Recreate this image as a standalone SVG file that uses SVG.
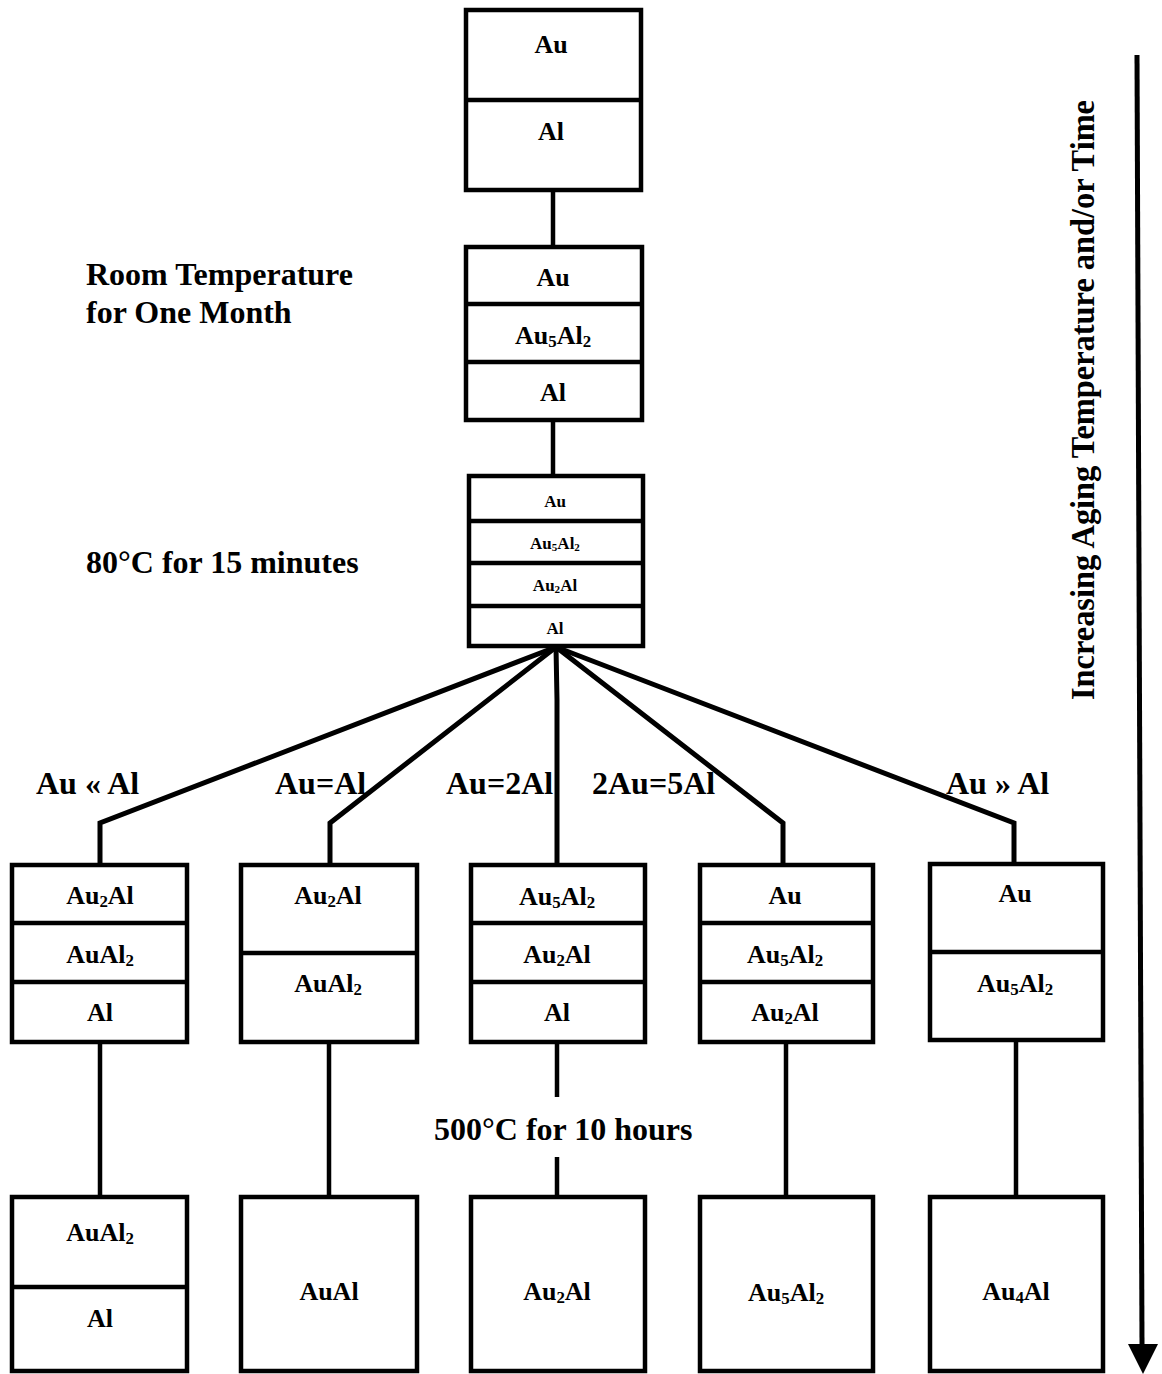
<svg xmlns="http://www.w3.org/2000/svg" width="1162" height="1374" viewBox="0 0 1162 1374">
<style>
  .box { fill: #fff; stroke: #000; stroke-width: 4.5; }
  .div { stroke: #000; stroke-width: 4.5; }
  .conn { fill: none; stroke: #000; stroke-width: 4.5; stroke-linejoin: miter; }
  .fan { fill: none; stroke: #000; stroke-width: 5; stroke-linejoin: miter; }
  text { font-family: "Liberation Serif", "Times New Roman", serif; font-weight: bold; fill: #000; }
  .bt { font-size: 26px; text-anchor: middle; }
  .st { font-size: 17px; text-anchor: middle; }
  .lbl { font-size: 32px; }
  .sub { font-size: 65%; }
</style>
<rect width="1162" height="1374" fill="#fff"/>

<g id="connectors">
  <line class="conn" x1="553" y1="190" x2="553" y2="247"/>
  <line class="conn" x1="553" y1="420" x2="553" y2="476"/>
  <polyline class="fan" points="556,647 100,823 100,865"/>
  <polyline class="fan" points="556,647 330,823 330,865"/>
  <polyline class="fan" points="556,647 557,700 557,865"/>
  <polyline class="fan" points="556,647 783,823 783,865"/>
  <polyline class="fan" points="556,647 1014,823 1014,865"/>
  <line class="conn" x1="100" y1="1042" x2="100" y2="1197"/>
  <line class="conn" x1="329" y1="1042" x2="329" y2="1197"/>
  <line class="conn" x1="557" y1="1042" x2="557" y2="1097"/>
  <line class="conn" x1="557" y1="1157" x2="557" y2="1197"/>
  <line class="conn" x1="786" y1="1042" x2="786" y2="1197"/>
  <line class="conn" x1="1016" y1="1042" x2="1016" y2="1197"/>
</g>

<g id="n-top">
  <rect class="box" x="466" y="10" width="175" height="180"/>
  <line class="div" x1="466" y1="100" x2="641" y2="100"/>
  <text class="bt" x="551" y="53">Au</text>
  <text class="bt" x="551" y="140">Al</text>
</g>

<g id="n-room">
  <rect class="box" x="466" y="247" width="176" height="173"/>
  <line class="div" x1="466" y1="304" x2="642" y2="304"/>
  <line class="div" x1="466" y1="362" x2="642" y2="362"/>
  <text class="bt" x="553" y="286">Au</text>
  <text class="bt" x="553" y="344">Au<tspan class="sub" baseline-shift="-15%">5</tspan>Al<tspan class="sub" baseline-shift="-15%">2</tspan></text>
  <text class="bt" x="553" y="401">Al</text>
</g>

<g id="n-80c">
  <rect class="box" x="469" y="476" width="174" height="170"/>
  <line class="div" x1="469" y1="521" x2="643" y2="521"/>
  <line class="div" x1="469" y1="563" x2="643" y2="563"/>
  <line class="div" x1="469" y1="606" x2="643" y2="606"/>
  <text class="st" x="555" y="507">Au</text>
  <text class="st" x="555" y="549">Au<tspan class="sub" baseline-shift="-15%">5</tspan>Al<tspan class="sub" baseline-shift="-15%">2</tspan></text>
  <text class="st" x="555" y="591">Au<tspan class="sub" baseline-shift="-15%">2</tspan>Al</text>
  <text class="st" x="555" y="634">Al</text>
</g>

<g id="n-b1">
  <rect class="box" x="12" y="865" width="175" height="177"/>
  <line class="div" x1="12" y1="923" x2="187" y2="923"/>
  <line class="div" x1="12" y1="982" x2="187" y2="982"/>
  <text class="bt" x="100" y="904">Au<tspan class="sub" baseline-shift="-15%">2</tspan>Al</text>
  <text class="bt" x="100" y="963">AuAl<tspan class="sub" baseline-shift="-15%">2</tspan></text>
  <text class="bt" x="100" y="1021">Al</text>
</g>

<g id="n-b2">
  <rect class="box" x="241" y="865" width="176" height="177"/>
  <line class="div" x1="241" y1="953" x2="417" y2="953"/>
  <text class="bt" x="328" y="904">Au<tspan class="sub" baseline-shift="-15%">2</tspan>Al</text>
  <text class="bt" x="328" y="992">AuAl<tspan class="sub" baseline-shift="-15%">2</tspan></text>
</g>

<g id="n-b3">
  <rect class="box" x="471" y="865" width="174" height="177"/>
  <line class="div" x1="471" y1="923" x2="645" y2="923"/>
  <line class="div" x1="471" y1="982" x2="645" y2="982"/>
  <text class="bt" x="557" y="905">Au<tspan class="sub" baseline-shift="-15%">5</tspan>Al<tspan class="sub" baseline-shift="-15%">2</tspan></text>
  <text class="bt" x="557" y="963">Au<tspan class="sub" baseline-shift="-15%">2</tspan>Al</text>
  <text class="bt" x="557" y="1021">Al</text>
</g>

<g id="n-b4">
  <rect class="box" x="700" y="865" width="173" height="177"/>
  <line class="div" x1="700" y1="923" x2="873" y2="923"/>
  <line class="div" x1="700" y1="982" x2="873" y2="982"/>
  <text class="bt" x="785" y="904">Au</text>
  <text class="bt" x="785" y="963">Au<tspan class="sub" baseline-shift="-15%">5</tspan>Al<tspan class="sub" baseline-shift="-15%">2</tspan></text>
  <text class="bt" x="785" y="1021">Au<tspan class="sub" baseline-shift="-15%">2</tspan>Al</text>
</g>

<g id="n-b5">
  <rect class="box" x="930" y="864" width="173" height="176"/>
  <line class="div" x1="930" y1="952" x2="1103" y2="952"/>
  <text class="bt" x="1015" y="902">Au</text>
  <text class="bt" x="1015" y="992">Au<tspan class="sub" baseline-shift="-15%">5</tspan>Al<tspan class="sub" baseline-shift="-15%">2</tspan></text>
</g>

<g id="n-f1">
  <rect class="box" x="12" y="1197" width="175" height="174"/>
  <line class="div" x1="12" y1="1287" x2="187" y2="1287"/>
  <text class="bt" x="100" y="1241">AuAl<tspan class="sub" baseline-shift="-15%">2</tspan></text>
  <text class="bt" x="100" y="1327">Al</text>
</g>
<g id="n-f2">
  <rect class="box" x="241" y="1197" width="176" height="174"/>
  <text class="bt" x="329" y="1300">AuAl</text>
</g>
<g id="n-f3">
  <rect class="box" x="471" y="1197" width="174" height="174"/>
  <text class="bt" x="557" y="1300">Au<tspan class="sub" baseline-shift="-15%">2</tspan>Al</text>
</g>
<g id="n-f4">
  <rect class="box" x="700" y="1197" width="173" height="174"/>
  <text class="bt" x="786" y="1301">Au<tspan class="sub" baseline-shift="-15%">5</tspan>Al<tspan class="sub" baseline-shift="-15%">2</tspan></text>
</g>
<g id="n-f5">
  <rect class="box" x="930" y="1197" width="173" height="174"/>
  <text class="bt" x="1016" y="1300">Au<tspan class="sub" baseline-shift="-15%">4</tspan>Al</text>
</g>

<g id="labels">
  <text class="lbl" x="86" y="285">Room Temperature</text>
  <text class="lbl" x="86" y="323">for One Month</text>
  <text class="lbl" x="86" y="573">80°C for 15 minutes</text>
  <text class="lbl" x="36" y="794">Au « Al</text>
  <text class="lbl" x="275" y="794">Au=Al</text>
  <text class="lbl" x="446" y="794">Au=2Al</text>
  <text class="lbl" x="592" y="794">2Au=5Al</text>
  <text class="lbl" x="946" y="794">Au » Al</text>
  <text class="lbl" x="434" y="1140">500°C for 10 hours</text>
</g>

<g id="time-axis">
  <line x1="1137" y1="55" x2="1142" y2="1346" stroke="#000" stroke-width="5"/>
  <polygon points="1128,1344 1158,1344 1143,1374" fill="#000"/>
  <text transform="translate(1094,400) rotate(-90)" text-anchor="middle" font-size="34" textLength="600" lengthAdjust="spacingAndGlyphs">Increasing Aging Temperature and/or Time</text>
</g>
</svg>
